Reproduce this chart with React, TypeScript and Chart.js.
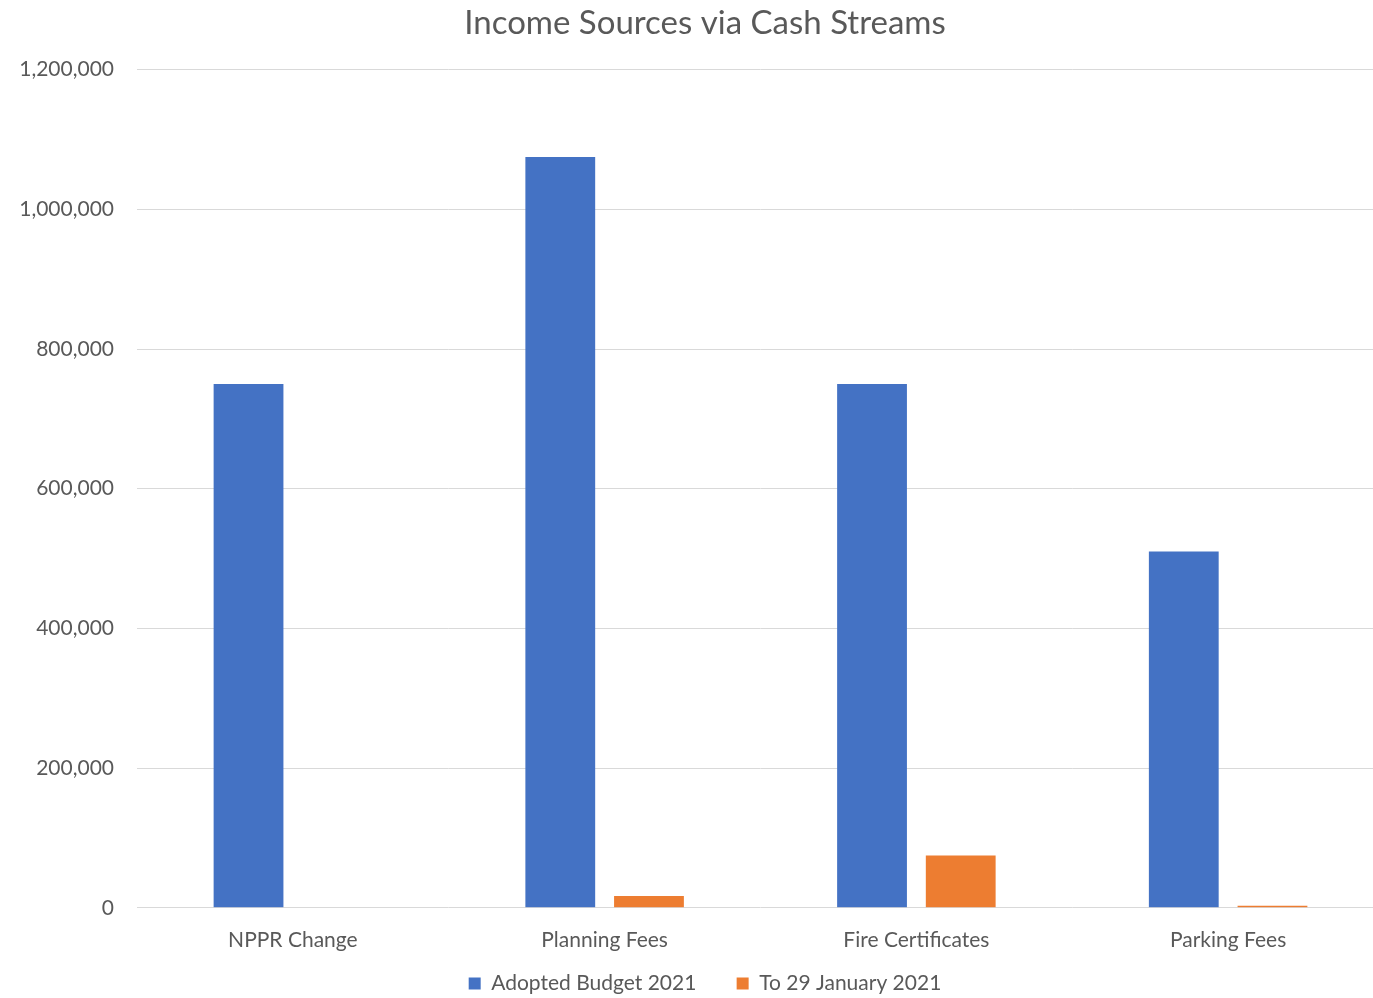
import React, { useEffect, useRef } from "react";
import { Chart, registerables } from "chart.js";

Chart.register(...registerables);

const categories = ["NPPR Change", "Planning Fees", "Fire Certificates", "Parking Fees"];
const adoptedBudget = [750000, 1075000, 750000, 510000];
const toJanuary = [0, 17000, 75000, 3000];
const seriesNames = ["Adopted Budget 2021", "To 29 January 2021"];
const titleText = "Income Sources via Cash Streams";

export default function App() {
  const ref = useRef<HTMLCanvasElement>(null);
  useEffect(() => {
    const fontFamily = "Lato, 'Open Sans', sans-serif";
    const defaultLabels = Chart.defaults.plugins.legend.labels.generateLabels;
    const chart = new Chart(ref.current!, {
      type: "bar",
      data: {
        labels: categories,
        datasets: [
          { label: seriesNames[0], data: adoptedBudget, backgroundColor: "#4472C4", categoryPercentage: 0.569, barPercentage: 0.787 },
          { label: seriesNames[1], data: toJanuary, backgroundColor: "#ED7D31", categoryPercentage: 0.569, barPercentage: 0.787 },
        ],
      },
      options: {
        animation: false,
        responsive: false,
        maintainAspectRatio: false,
        layout: { padding: { left: 0, right: 0, top: 4, bottom: 0 } },
        plugins: {
          title: {
            display: true,
            text: titleText,
            color: "#595959",
            font: { family: fontFamily, size: 33, weight: "normal" },
            padding: { top: 0, bottom: 26 },
          },
          legend: {
            position: "bottom",
            labels: {
              color: "#595959",
              font: { family: fontFamily, size: 21 },
              boxWidth: 12,
              boxHeight: 12,
              padding: 8,
              generateLabels: (c: any) =>
                defaultLabels(c).map((l: any, i: number) =>
                  i === 0 ? { ...l, text: l.text + "\u00A0\u00A0\u00A0\u00A0\u00A0\u00A0" } : l
                ),
            },
          },
          tooltip: { enabled: false },
        },
        scales: {
          x: {
            grid: { display: false },
            border: { display: false },
            ticks: { color: "#595959", font: { family: fontFamily, size: 21 }, padding: 12 },
          },
          y: {
            min: 0,
            max: 1200000,
            afterFit: (s: any) => { s.width = 137; },
            ticks: {
              stepSize: 200000,
              color: "#595959",
              font: { family: fontFamily, size: 21 },
              padding: 23,
              callback: (v: any) => Number(v).toLocaleString("en-US"),
            },
            grid: { color: "#d9d9d9", drawTicks: false, lineWidth: 1 },
            border: { display: false },
          },
          y2: {
            position: "right",
            display: true,
            min: 0,
            max: 1200000,
            afterFit: (s: any) => { s.width = 26; },
            ticks: { display: false },
            grid: { display: false, drawTicks: false },
            border: { display: false },
          },
        },
      },
    });
    return () => chart.destroy();
  }, []);
  return (
    <div style={{ position: "absolute", left: 0, top: 0, width: 1373, height: 998, background: "#fff", overflow: "hidden" }}>
      <canvas ref={ref} width={1410} height={1004} />
    </div>
  );
}
